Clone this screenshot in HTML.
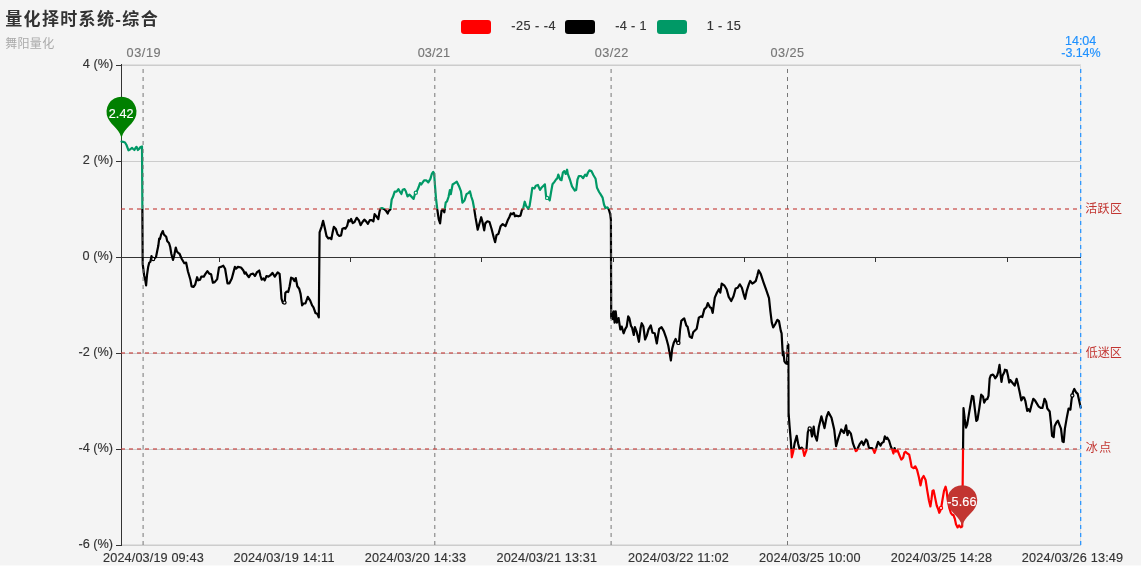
<!DOCTYPE html><html><head><meta charset="utf-8"><title>量化择时系统-综合</title>
<style>html,body{margin:0;padding:0;background:#fff;}#c{position:relative;width:1141px;height:575px;overflow:hidden;will-change:transform;}svg{display:block;}</style></head><body><div id="c">
<svg width="1141" height="575" viewBox="0 0 1141 575" font-family='"Liberation Sans", "Noto Sans CJK SC", sans-serif'>
<rect x="0" y="0" width="1141" height="565" fill="#f4f4f4"/>
<rect x="0" y="565" width="1141" height="1" fill="#fafafa"/>
<line x1="121.5" y1="65.5" x2="1081" y2="65.5" stroke="#ccc" stroke-width="1"/>
<line x1="121.5" y1="161.5" x2="1081" y2="161.5" stroke="#ccc" stroke-width="1"/>
<line x1="121.5" y1="353.5" x2="1081" y2="353.5" stroke="#ccc" stroke-width="1"/>
<line x1="121.5" y1="449.5" x2="1081" y2="449.5" stroke="#ccc" stroke-width="1"/>
<line x1="121.5" y1="545.5" x2="1081" y2="545.5" stroke="#ccc" stroke-width="1"/>
<line x1="121.5" y1="64.5" x2="1081" y2="64.5" stroke="#e0e0e0" stroke-width="1"/>
<line x1="121.5" y1="544.5" x2="1081" y2="544.5" stroke="#e0e0e0" stroke-width="1"/>
<line x1="1080.5" y1="65" x2="1080.5" y2="545" stroke="#ddd" stroke-width="1"/>
<line x1="121.5" y1="257.5" x2="1081" y2="257.5" stroke="#333" stroke-width="1"/>
<line x1="219.5" y1="257" x2="219.5" y2="262" stroke="#333" stroke-width="1"/>
<line x1="350.5" y1="257" x2="350.5" y2="262" stroke="#333" stroke-width="1"/>
<line x1="481.5" y1="257" x2="481.5" y2="262" stroke="#333" stroke-width="1"/>
<line x1="613.5" y1="257" x2="613.5" y2="262" stroke="#333" stroke-width="1"/>
<line x1="744.5" y1="257" x2="744.5" y2="262" stroke="#333" stroke-width="1"/>
<line x1="875.5" y1="257" x2="875.5" y2="262" stroke="#333" stroke-width="1"/>
<line x1="1007.5" y1="257" x2="1007.5" y2="262" stroke="#333" stroke-width="1"/>
<line x1="121.5" y1="64" x2="121.5" y2="546" stroke="#333" stroke-width="1"/>
<line x1="116" y1="65.5" x2="121.5" y2="65.5" stroke="#333" stroke-width="1"/>
<line x1="116" y1="161.5" x2="121.5" y2="161.5" stroke="#333" stroke-width="1"/>
<line x1="116" y1="257.5" x2="121.5" y2="257.5" stroke="#333" stroke-width="1"/>
<line x1="116" y1="353.5" x2="121.5" y2="353.5" stroke="#333" stroke-width="1"/>
<line x1="116" y1="449.5" x2="121.5" y2="449.5" stroke="#333" stroke-width="1"/>
<line x1="116" y1="545.5" x2="121.5" y2="545.5" stroke="#333" stroke-width="1"/>
<defs><linearGradient id="vm" gradientUnits="userSpaceOnUse" x1="0" y1="65" x2="0" y2="545"><stop offset="0" stop-color="#009966"/><stop offset="0.3" stop-color="#009966"/><stop offset="0.3" stop-color="#000000"/><stop offset="0.8" stop-color="#000000"/><stop offset="0.8" stop-color="#ff0000"/><stop offset="1" stop-color="#ff0000"/></linearGradient></defs>
<path d="M121.5,141.5 L123.0,141.8 L125.0,142.5 L126.5,145.0 L128.5,150.3 L130.0,149.5 L132.0,147.9 L133.2,149.0 L134.4,150.0 L135.5,148.0 L136.5,146.8 L137.9,150.0 L139.0,149.0 L140.5,147.0 L142.0,146.5 L142.7,264.0 L144.1,275.2 L145.3,280.3 L146.1,285.4 L147.0,275.2 L148.1,267.3 L149.2,262.8 L150.4,261.7 L151.5,256.0 L152.6,259.4 L154.3,258.3 L156.0,257.1 L157.1,251.5 L158.3,245.8 L159.2,238.5 L160.0,239.0 L161.1,234.5 L162.8,231.1 L163.9,234.5 L166.2,236.8 L167.3,241.3 L169.0,243.0 L170.2,247.0 L171.3,253.8 L173.0,260.0 L174.1,256.0 L175.8,247.5 L176.9,251.5 L178.6,253.2 L179.4,253.5 L181.8,259.0 L184.3,263.2 L186.1,262.6 L187.9,271.2 L190.4,279.7 L191.6,286.4 L193.4,287.0 L195.2,284.6 L197.1,277.2 L198.3,280.3 L200.1,279.7 L201.3,276.6 L203.8,276.6 L205.6,273.6 L207.4,271.2 L209.3,273.6 L211.1,274.2 L212.9,282.7 L214.7,282.1 L217.2,279.1 L219.0,267.5 L220.8,266.9 L223.3,265.7 L225.1,268.7 L227.5,283.3 L229.4,283.3 L231.8,278.5 L234.9,266.9 L236.1,268.7 L237.9,266.9 L241.0,267.5 L243.4,270.5 L244.6,273.6 L245.8,272.4 L247.0,274.8 L248.9,277.2 L250.7,274.2 L253.1,273.6 L255.0,276.0 L256.8,272.4 L259.2,270.5 L260.5,276.0 L261.7,279.7 L263.5,278.5 L264.7,280.3 L266.5,276.0 L268.4,276.6 L270.2,275.4 L272.4,272.9 L274.8,276.7 L277.7,272.4 L279.6,273.8 L280.5,284.4 L281.5,298.7 L282.9,303.0 L284.8,302.5 L285.3,293.0 L286.7,291.5 L288.2,292.0 L289.6,286.3 L291.1,277.7 L293.0,278.6 L294.4,281.0 L295.8,278.1 L297.3,286.3 L299.2,288.7 L300.6,293.9 L302.1,305.4 L303.5,303.5 L305.4,303.5 L307.8,296.8 L310.2,300.6 L312.1,305.4 L313.5,307.3 L315.5,313.1 L317.4,314.0 L318.8,317.4 L319.6,232.4 L321.7,226.3 L323.1,220.8 L324.7,227.5 L326.5,236.0 L328.4,238.5 L330.2,237.9 L331.4,239.1 L332.6,232.4 L333.8,226.9 L335.7,228.7 L337.5,234.2 L339.3,236.0 L341.1,235.4 L342.4,228.7 L344.2,228.1 L345.4,228.7 L347.2,225.7 L348.5,220.2 L349.7,221.4 L351.1,219.0 L352.7,223.2 L354.5,222.0 L356.7,217.8 L358.8,220.2 L360.6,225.1 L362.5,222.0 L364.3,219.6 L366.1,221.4 L367.9,223.8 L369.8,220.2 L371.6,220.2 L373.4,221.4 L374.6,214.1 L376.5,216.5 L378.3,219.0 L379.5,211.7 L380.4,208.6 L382.0,208.0 L384.4,209.2 L386.2,211.1 L387.7,213.5 L388.6,211.1 L390.5,209.2 L391.7,199.5 L392.9,197.1 L394.7,191.6 L396.6,191.6 L398.4,189.1 L400.2,192.2 L401.4,194.0 L402.7,189.7 L404.5,189.1 L405.7,191.0 L407.5,196.4 L409.4,194.6 L411.2,196.4 L413.6,198.9 L415.1,193.5 L416.5,192.1 L418.6,187.3 L420.0,183.1 L421.3,184.5 L422.7,182.4 L424.1,180.3 L426.2,180.3 L428.3,182.4 L430.4,178.9 L431.8,174.0 L433.2,172.0 L434.1,173.3 L435.0,185.9 L436.0,198.4 L437.3,209.5 L438.7,219.2 L440.1,223.4 L441.5,210.9 L442.9,209.5 L444.3,212.3 L445.7,202.6 L447.1,201.2 L448.5,197.0 L449.9,190.0 L450.8,194.2 L452.6,184.5 L454.7,183.1 L456.8,181.7 L458.9,185.9 L461.0,191.4 L462.4,202.6 L464.5,200.5 L466.5,194.2 L468.6,192.8 L470.0,191.4 L471.4,197.0 L472.8,201.2 L474.2,208.8 L475.6,217.9 L477.7,229.7 L479.1,224.8 L481.2,217.2 L482.5,222.0 L484.2,230.4 L485.3,223.4 L487.4,221.3 L489.5,222.0 L491.6,229.0 L493.7,237.3 L495.1,242.2 L496.5,235.2 L498.5,233.8 L500.6,226.2 L502.7,224.1 L505.5,226.2 L507.6,220.6 L509.4,217.0 L510.8,213.5 L512.2,214.2 L513.8,212.9 L515.0,216.3 L516.3,215.6 L518.4,216.3 L520.5,215.6 L521.9,210.1 L523.3,208.0 L524.7,201.7 L526.1,205.9 L528.2,208.7 L529.6,205.9 L530.9,197.6 L532.3,187.8 L534.4,188.5 L535.8,185.7 L537.9,185.0 L540.0,189.9 L541.4,187.8 L543.5,185.7 L544.9,184.3 L546.2,197.6 L548.3,198.2 L549.7,200.3 L551.1,192.0 L552.5,184.3 L554.6,181.6 L556.0,179.5 L557.4,178.1 L558.3,174.6 L560.2,179.5 L561.5,180.2 L562.9,172.5 L564.3,171.1 L565.7,173.9 L567.1,169.7 L567.8,173.9 L569.9,179.5 L572.0,186.4 L574.8,190.6 L576.2,189.9 L577.5,179.5 L578.9,176.0 L581.0,176.0 L583.1,178.1 L585.2,174.6 L586.6,176.0 L588.0,172.5 L589.4,170.4 L591.4,171.1 L593.5,175.3 L595.6,178.8 L597.0,187.8 L599.1,192.0 L600.5,194.1 L602.6,197.6 L604.0,204.5 L605.4,208.0 L607.4,207.3 L608.8,209.4 L610.2,214.2 L610.9,219.8 L611.2,318.1 L612.0,312.4 L612.9,319.2 L613.8,311.3 L614.6,322.6 L615.7,311.3 L616.9,322.6 L618.6,318.1 L620.3,329.4 L621.7,326.6 L623.6,333.3 L625.3,328.8 L626.7,326.6 L628.2,316.4 L629.3,318.1 L631.0,326.0 L632.1,327.7 L633.8,335.0 L634.9,327.1 L636.6,331.6 L638.9,341.8 L640.6,328.2 L641.7,323.2 L643.4,326.6 L645.1,339.5 L646.8,335.6 L648.5,329.4 L650.8,325.4 L652.5,332.8 L654.7,333.3 L656.8,343.5 L658.1,335.0 L659.2,328.8 L661.5,327.1 L663.8,331.1 L666.0,337.3 L668.3,345.8 L670.0,355.4 L670.9,360.5 L672.2,348.6 L673.9,342.4 L675.6,339.0 L677.3,342.9 L679.0,342.9 L680.1,329.4 L681.3,320.9 L683.0,319.2 L684.2,318.4 L686.3,325.4 L687.6,326.8 L689.7,336.5 L691.8,337.9 L693.2,332.3 L696.7,328.8 L698.8,317.7 L700.9,316.3 L702.3,317.0 L704.3,309.4 L706.4,307.3 L707.8,303.1 L709.9,307.3 L711.3,308.0 L712.7,312.9 L714.8,297.6 L716.9,292.7 L718.9,289.2 L720.3,292.7 L721.7,283.6 L724.5,285.7 L726.6,289.2 L728.7,296.9 L731.2,301.0 L733.5,296.2 L735.6,288.5 L737.7,287.8 L739.8,284.3 L741.9,287.8 L744.0,295.5 L745.1,298.9 L746.8,290.6 L748.8,284.3 L750.2,280.9 L752.3,283.6 L754.4,282.3 L755.8,280.9 L757.2,276.0 L758.6,270.4 L760.7,273.9 L763.5,282.3 L766.2,289.9 L769.0,298.2 L770.4,311.5 L771.8,322.6 L773.2,327.5 L775.3,324.0 L777.4,319.8 L779.0,321.2 L780.8,330.9 L781.6,333.4 L782.2,344.4 L782.8,355.3 L783.4,351.7 L784.4,361.4 L785.8,363.2 L787.0,363.8 L787.7,345.6 L788.3,344.4 L788.6,412.8 L789.5,425.3 L790.8,440.6 L791.8,457.3 L793.2,451.8 L794.6,443.4 L796.7,435.8 L798.1,443.4 L799.5,449.0 L801.6,447.6 L802.9,449.0 L804.3,455.9 L806.4,450.4 L807.8,432.3 L809.2,428.1 L810.6,428.8 L812.0,436.5 L813.7,426.7 L814.8,435.1 L816.9,440.6 L818.9,426.7 L821.4,416.3 L823.1,422.6 L824.5,428.1 L826.6,417.0 L828.4,412.1 L831.5,417.7 L834.2,429.5 L836.1,446.2 L838.4,437.9 L841.2,429.5 L844.0,433.0 L846.1,425.3 L847.5,435.1 L848.8,430.9 L850.9,433.7 L853.0,443.4 L855.8,451.1 L856.8,450.5 L858.7,446.2 L859.9,443.8 L861.7,441.3 L863.5,445.0 L866.0,439.5 L867.2,440.7 L869.0,448.0 L870.8,448.0 L872.1,448.0 L873.3,449.8 L874.5,452.9 L875.7,449.8 L876.9,445.6 L878.1,441.9 L879.4,443.8 L880.6,445.6 L881.8,443.1 L883.6,441.9 L884.8,436.4 L886.4,438.9 L887.3,437.7 L889.1,440.7 L890.9,446.8 L892.1,449.2 L893.4,453.5 L894.6,448.0 L895.8,451.7 L897.6,450.5 L899.5,455.3 L901.3,459.6 L903.1,457.8 L904.3,452.9 L905.5,451.7 L907.4,453.5 L909.2,454.7 L910.4,460.2 L911.6,466.9 L913.5,468.1 L915.3,466.3 L917.1,469.9 L918.9,477.2 L920.5,485.4 L922.0,478.5 L923.6,476.0 L925.6,480.0 L927.3,490.9 L928.9,500.3 L930.4,506.5 L931.5,499.2 L932.5,490.9 L933.6,490.3 L935.1,497.6 L936.7,505.5 L938.3,509.6 L939.3,512.8 L940.3,510.7 L941.4,506.5 L942.4,500.3 L944.0,490.9 L945.6,486.7 L946.6,490.9 L947.6,499.2 L949.2,507.6 L950.8,512.8 L952.3,514.9 L953.4,514.9 L954.9,519.0 L956.0,524.2 L957.6,527.4 L959.1,525.3 L960.7,527.4 L962.2,526.3 L963.5,408.1 L964.7,418.5 L966.0,427.6 L967.2,424.6 L969.6,409.9 L972.0,395.9 L973.3,396.5 L975.1,411.2 L976.3,420.9 L977.5,419.7 L979.4,407.5 L981.2,394.7 L983.0,396.5 L984.2,402.6 L985.7,399.6 L987.3,399.0 L988.5,395.9 L989.7,378.3 L990.9,375.2 L992.8,374.6 L994.0,375.8 L995.2,378.3 L997.0,375.8 L998.2,372.2 L999.5,364.9 L1000.7,375.8 L1001.5,381.9 L1002.5,375.8 L1004.3,372.2 L1004.9,369.7 L1006.8,370.4 L1008.0,375.8 L1009.2,382.5 L1010.4,380.1 L1012.2,382.5 L1014.7,385.6 L1016.6,378.8 L1017.7,383.1 L1019.6,391.7 L1021.3,400.4 L1023.0,397.2 L1024.1,397.5 L1025.4,401.2 L1027.2,410.9 L1028.4,409.1 L1029.9,411.5 L1031.4,405.5 L1033.3,398.8 L1035.1,400.6 L1036.9,403.6 L1038.8,406.7 L1040.6,407.9 L1042.4,407.9 L1043.6,403.0 L1044.5,398.8 L1046.1,401.8 L1047.3,408.5 L1049.7,411.5 L1050.9,422.5 L1052.1,435.9 L1053.7,437.1 L1054.6,426.2 L1056.4,422.5 L1057.9,420.7 L1059.5,424.9 L1061.0,428.6 L1062.5,441.4 L1063.7,442.0 L1064.9,428.6 L1066.8,417.6 L1068.6,408.5 L1070.4,409.7 L1071.6,399.4 L1072.9,392.1 L1074.3,389.0 L1075.9,392.1 L1077.7,393.9 L1078.9,399.4 L1080.7,407.7" fill="none" stroke="url(#vm)" stroke-width="2.2" stroke-linejoin="round" stroke-linecap="round"/>
<line x1="143.1" y1="545" x2="143.1" y2="65" stroke="#777" stroke-width="1" stroke-dasharray="4 4"/>
<line x1="434.8" y1="545" x2="434.8" y2="65" stroke="#777" stroke-width="1" stroke-dasharray="4 4"/>
<line x1="611.1" y1="545" x2="611.1" y2="65" stroke="#777" stroke-width="1" stroke-dasharray="4 4"/>
<line x1="787.5" y1="545" x2="787.5" y2="65" stroke="#777" stroke-width="1" stroke-dasharray="4 4"/>
<line x1="121" y1="209" x2="1081" y2="209" stroke="#c23531" stroke-opacity="0.55" stroke-width="2" stroke-dasharray="4 4"/>
<line x1="121" y1="353" x2="1081" y2="353" stroke="#c23531" stroke-opacity="0.55" stroke-width="2" stroke-dasharray="4 4"/>
<line x1="121" y1="449" x2="1081" y2="449" stroke="#c23531" stroke-opacity="0.55" stroke-width="2" stroke-dasharray="4 4"/>
<line x1="1080.7" y1="545" x2="1080.7" y2="65" stroke="#1e90ff" stroke-width="1.2" stroke-dasharray="4 4"/>
<circle cx="153.2" cy="259.0" r="1.6" fill="#fff" stroke="#000000" stroke-width="1.2"/>
<circle cx="284.5" cy="302.6" r="1.6" fill="#fff" stroke="#000000" stroke-width="1.2"/>
<circle cx="415.8" cy="192.8" r="1.6" fill="#fff" stroke="#009966" stroke-width="1.2"/>
<circle cx="547.1" cy="197.9" r="1.6" fill="#fff" stroke="#009966" stroke-width="1.2"/>
<circle cx="678.4" cy="342.9" r="1.6" fill="#fff" stroke="#000000" stroke-width="1.2"/>
<circle cx="809.7" cy="428.4" r="1.6" fill="#fff" stroke="#000000" stroke-width="1.2"/>
<circle cx="941.0" cy="508.0" r="1.6" fill="#fff" stroke="#ff0000" stroke-width="1.2"/>
<circle cx="1072.3" cy="395.5" r="1.6" fill="#fff" stroke="#000000" stroke-width="1.2"/>
<path d="M107.95,118.16 A15.0,15.0 0 1 1 135.05,118.16 C131.20,126.29 121.50,129.80 121.50,140.30 C121.50,129.80 111.80,126.29 107.95,118.16Z" fill="#008000"/>
<path d="M948.65,506.56 A15.0,15.0 0 1 1 975.75,506.56 C971.90,514.69 962.20,518.20 962.20,528.70 C962.20,518.20 952.50,514.69 948.65,506.56Z" fill="#c23531"/>
<text x="5.28" y="25.00" font-size="17" font-weight="bold" letter-spacing="1.338" fill="#333">量化择时系统-综合</text>
<text x="5.15" y="48.00" font-size="12" letter-spacing="0.340" fill="#aaa">舞阳量化</text>
<text x="511.31" y="30.00" font-size="12.7" letter-spacing="0.466" fill="#333" stroke="#333" stroke-width="0.15">-25 - -4</text>
<text x="615.24" y="30.00" font-size="12.7" letter-spacing="0.318" fill="#333" stroke="#333" stroke-width="0.15">-4 - 1</text>
<text x="706.75" y="30.00" font-size="12.7" letter-spacing="0.337" fill="#333" stroke="#333" stroke-width="0.15">1 - 15</text>
<text x="126.51" y="57.00" font-size="12.7" letter-spacing="0.589" fill="#777" stroke="#777" stroke-width="0.15">03/19</text>
<text x="417.65" y="57.00" font-size="12.7" letter-spacing="0.137" fill="#777" stroke="#777" stroke-width="0.15">03/21</text>
<text x="594.65" y="57.00" font-size="12.7" letter-spacing="0.495" fill="#777" stroke="#777" stroke-width="0.15">03/22</text>
<text x="770.60" y="57.00" font-size="12.7" letter-spacing="0.441" fill="#777" stroke="#777" stroke-width="0.15">03/25</text>
<text x="1065.06" y="45.00" font-size="12.5" letter-spacing="-0.018" fill="#1e90ff" stroke="#1e90ff" stroke-width="0.15">14:04</text>
<text x="1061.31" y="57.00" font-size="12.5" letter-spacing="-0.075" fill="#1e90ff" stroke="#1e90ff" stroke-width="0.15">-3.14%</text>
<text x="82.86" y="68.00" font-size="12.7" letter-spacing="0.025" fill="#333" stroke="#333" stroke-width="0.15">4 (%)</text>
<text x="82.77" y="164.00" font-size="12.7" letter-spacing="0.055" fill="#333" stroke="#333" stroke-width="0.15">2 (%)</text>
<text x="82.60" y="260.00" font-size="12.7" letter-spacing="0.037" fill="#333" stroke="#333" stroke-width="0.15">0 (%)</text>
<text x="78.39" y="356.00" font-size="12.7" letter-spacing="0.031" fill="#333" stroke="#333" stroke-width="0.15">-2 (%)</text>
<text x="78.39" y="452.00" font-size="12.7" letter-spacing="0.031" fill="#333" stroke="#333" stroke-width="0.15">-4 (%)</text>
<text x="78.39" y="548.00" font-size="12.7" letter-spacing="0.031" fill="#333" stroke="#333" stroke-width="0.15">-6 (%)</text>
<text x="103.08" y="562.00" font-size="12.7" letter-spacing="0.122" fill="#333" stroke="#333" stroke-width="0.15">2024/03/19 09:43</text>
<text x="233.58" y="562.00" font-size="12.7" letter-spacing="0.202" fill="#333" stroke="#333" stroke-width="0.15">2024/03/19 14:11</text>
<text x="364.77" y="562.00" font-size="12.7" letter-spacing="0.168" fill="#333" stroke="#333" stroke-width="0.15">2024/03/20 14:33</text>
<text x="496.47" y="562.00" font-size="12.7" letter-spacing="0.115" fill="#333" stroke="#333" stroke-width="0.15">2024/03/21 13:31</text>
<text x="628.02" y="562.00" font-size="12.7" letter-spacing="0.196" fill="#333" stroke="#333" stroke-width="0.15">2024/03/22 11:02</text>
<text x="759.02" y="562.00" font-size="12.7" letter-spacing="0.177" fill="#333" stroke="#333" stroke-width="0.15">2024/03/25 10:00</text>
<text x="890.72" y="562.00" font-size="12.7" letter-spacing="0.175" fill="#333" stroke="#333" stroke-width="0.15">2024/03/25 14:28</text>
<text x="1021.77" y="562.00" font-size="12.7" letter-spacing="0.172" fill="#333" stroke="#333" stroke-width="0.15">2024/03/26 13:49</text>
<text x="1085.23" y="213.00" font-size="12" letter-spacing="0.341" fill="#c23531">活跃区</text>
<text x="1085.81" y="357.00" font-size="12" letter-spacing="-0.049" fill="#c23531">低迷区</text>
<text x="1085.65" y="452.00" font-size="12" letter-spacing="1.529" fill="#c23531">冰点</text>
<text x="108.72" y="118.00" font-size="12.6" letter-spacing="0.123" fill="#fff" stroke="#fff" stroke-width="0.15">2.42</text>
<text x="947.24" y="506.00" font-size="12.6" letter-spacing="0.118" fill="#fff" stroke="#fff" stroke-width="0.15">-5.66</text>
<rect x="461" y="20" width="30" height="14" rx="3" fill="#ff0000"/>
<rect x="565" y="20" width="30" height="14" rx="3" fill="#000000"/>
<rect x="657" y="20" width="30" height="14" rx="3" fill="#009966"/>
</svg></div></body></html>
